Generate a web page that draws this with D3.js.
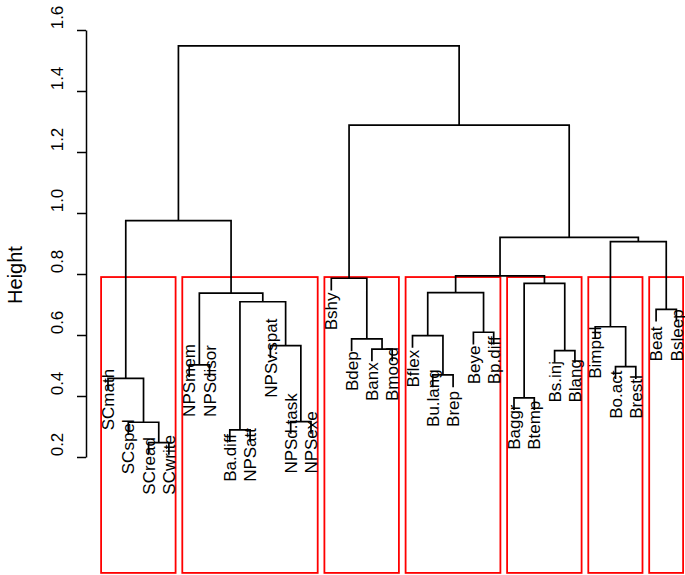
<!DOCTYPE html>
<html>
<head>
<meta charset="utf-8">
<script src="https://cdn.jsdelivr.net/npm/d3@7"></script>
<style>
  html, body { margin: 0; padding: 0; background: #ffffff; }
  svg { display: block; }
  text { font-family: "Liberation Sans", Arial, Helvetica, sans-serif; fill: #000; }
</style>
</head>
<body>
<svg id="chart" width="685" height="575"></svg>
<script>
// ---------------- data ----------------
// leaves in dendrogram order (left to right)
const labels = ["SCmath","SCspel","SCread","SCwrite","NPSmem","NPSdisor","Ba.diff","NPSatt",
  "NPSv.spat","NPSd.task","NPSexe","Bshy","Bdep","Banx","Bmood","Bflex","Bu.lang","Brep",
  "Beye","Bp.diff","Baggr","Btemp","Bs.inj","Blang","Bimpul","Bo.act","Brestl","Beat","Bsleep"];

// hclust-style merge table: negative = leaf (1-based index into labels), positive = earlier merge step
const mergeLeft   = [-3, -7, -2, -10, -21, -1, -17, -26, -5, -23, -14, -9, -13, -16, -19, -25, -28,  2,  9, 14,  5, -12, 20, 16, 23,  6, 22, 26];
const mergeRight  = [-4, -8,  1, -11, -22,  3, -18, -27, -6, -24, -15,  4,  11,   7, -20,   8, -29, 12, 18, 15, 10,  13, 21, 17, 24, 19, 25, 27];
const mergeHeight = [0.247, 0.289, 0.314, 0.316, 0.394, 0.458, 0.469, 0.496, 0.502, 0.549, 0.554, 0.565,
  0.587, 0.598, 0.609, 0.627, 0.684, 0.709, 0.737, 0.739, 0.769, 0.786, 0.794, 0.906, 0.920, 0.975, 1.288, 1.548];

// rect.hclust(k = 7) cluster sizes, left to right
const clusterSizes = [4, 7, 4, 5, 4, 3, 2];
const k = clusterSizes.length;

const yTicks = [0.2, 0.4, 0.6, 0.8, 1.0, 1.2, 1.4, 1.6];
const yTitle = "Height";

// ---------------- layout ----------------
const svg = d3.select("#chart");
const x = d3.scaleLinear().domain([1, labels.length]).range([108, 676.4]);
const y = d3.scaleLinear().domain([0.2, 1.6]).range([457, 30]);
const axisX = 86;
const plotBottomH = -0.18;       // par("usr")[3]
const leafStubH = 0.04;          // short leaf segments
const labelOffsetPx = 52;        // label start below parent merge

// build hierarchy from merge table
function buildNode(id) {
  if (id < 0) return { name: labels[-id - 1], leaf: -id };
  return { step: id, height: mergeHeight[id - 1],
           children: [buildNode(mergeLeft[id - 1]), buildNode(mergeRight[id - 1])] };
}
const root = d3.hierarchy(buildNode(mergeHeight.length));
root.eachAfter(n => {
  if (n.children) {
    n.px = (n.children[0].px + n.children[1].px) / 2;
    n.ph = n.data.height;
  } else {
    n.px = n.data.leaf;
  }
});
root.leaves().forEach(l => { l.ph = l.parent.ph - leafStubH; });

// ---------------- red cluster boxes ----------------
const sortedDesc = mergeHeight.slice().sort((a, b) => b - a);
const boxTopH = (sortedDesc[k - 2] + sortedDesc[k - 1]) / 2;
let cum = 0;
const boxes = clusterSizes.map(s => { const b = { from: cum, to: cum + s }; cum += s; return b; });
svg.append("g").selectAll("rect").data(boxes).join("rect")
  .attr("x", d => x(d.from + 0.66))
  .attr("y", y(boxTopH))
  .attr("width", d => x(d.to + 0.33) - x(d.from + 0.66))
  .attr("height", y(plotBottomH) - y(boxTopH))
  .attr("fill", "none").attr("stroke", "#ff0000").attr("stroke-width", 1.8);

// ---------------- dendrogram links ----------------
const internal = root.descendants().filter(n => n.children);
svg.append("g").selectAll("path").data(internal).join("path")
  .attr("d", n => {
    const [a, b] = n.children;
    return `M${x(a.px)},${y(a.ph)}V${y(n.ph)}H${x(b.px)}V${y(b.ph)}`;
  })
  .attr("fill", "none").attr("stroke", "#000").attr("stroke-width", 1.7);

// ---------------- leaf labels ----------------
svg.append("g").selectAll("text").data(root.leaves()).join("text")
  .attr("transform", l => `translate(${x(l.px)},${y(l.parent.ph) + labelOffsetPx}) rotate(-90)`)
  .attr("dy", "0.36em")
  .attr("text-anchor", "start")
  .style("font-size", "17px")
  .text(l => l.data.name);

// ---------------- y axis ----------------
const axisG = svg.append("g").attr("transform", `translate(${axisX},0)`)
  .call(d3.axisLeft(y).tickValues(yTicks).tickSize(9).tickSizeOuter(0).tickFormat(d3.format(".1f")));
axisG.select(".domain").attr("stroke", "#000").attr("stroke-width", 1.5);
axisG.selectAll(".tick line").attr("stroke", "#000").attr("stroke-width", 1.5);
axisG.selectAll(".tick text")
  .attr("x", null).attr("dy", null)
  .attr("transform", "translate(-23,-13) rotate(-90)")
  .attr("text-anchor", "middle")
  .attr("fill", "#000")
  .style("font-size", "17px")
  .style("font-family", "'Liberation Sans', Arial, sans-serif");

svg.append("text")
  .attr("transform", `translate(22,275) rotate(-90)`)
  .attr("text-anchor", "middle")
  .style("font-size", "20px")
  .text(yTitle);
</script>
</body>
</html>
